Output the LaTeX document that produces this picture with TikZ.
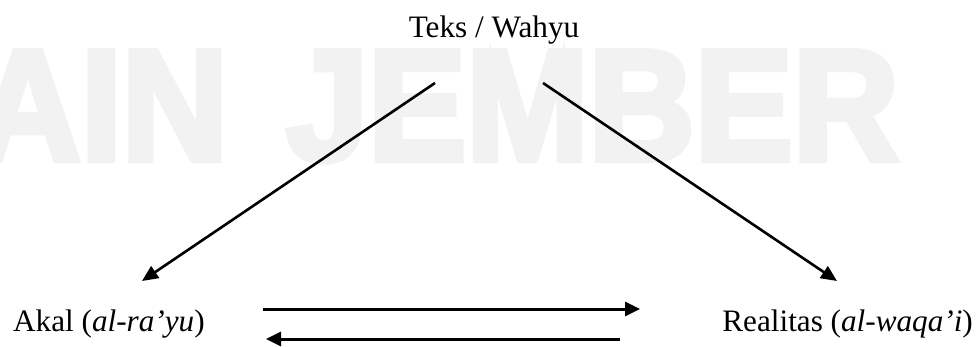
\documentclass[tikz,border=0pt]{standalone}
\usepackage{fontspec}
\setmainfont{Liberation Serif}
\newfontfamily\wmfont{Liberation Sans}[BoldFeatures={FakeStretch=0.93,FakeBold=4}]
\usetikzlibrary{arrows.meta}
\definecolor{wmgray}{HTML}{F2F2F2}
\begin{document}
\begin{tikzpicture}[x=1pt,y=-1pt,
  label/.style={inner sep=0pt,font=\fontsize{31.2pt}{37pt}\selectfont},
  watermark/.style={inner sep=0pt,text=wmgray,font=\wmfont\bfseries\fontsize{158pt}{160pt}\selectfont},
  link/.style={line width=2.6pt,-{Triangle[length=16pt,width=14pt]}},
  flow/.style={line width=3pt,-{Triangle[length=15pt,width=14pt]}}]
  \useasboundingbox (0,0) rectangle (976,347);
  \clip (0,0) rectangle (976,347);

  % background lettering
  \node[watermark,anchor=base east] (wmleft) at (228,160) {IAIN};
  \node[watermark,anchor=base east] (wmright) at (899,160) {JEMBER};

  % the three terms
  \node[label,anchor=base] (wahyu) at (494,38) {Teks / Wahyu};
  \node[label,anchor=base west] (akal) at (13,331) {Akal (\textit{al-ra’yu})};
  \node[label,anchor=base east] (realitas) at (973,331) {Realitas (\textit{al-waqa’i})};

  % connector ends
  \coordinate (wL) at (435,83);
  \coordinate (wR) at (543,83);
  \coordinate (aTip) at (142,281);
  \coordinate (rTip) at (837,281);
  \coordinate (fA) at (263,309);
  \coordinate (fB) at (640,309);
  \coordinate (bA) at (620,339);
  \coordinate (bB) at (266,339);

  \draw[link] (wL) -- (aTip);
  \draw[link] (wR) -- (rTip);
  \draw[flow] (fA) -- (fB);
  \draw[flow] (bA) -- (bB);
\end{tikzpicture}
\end{document}
